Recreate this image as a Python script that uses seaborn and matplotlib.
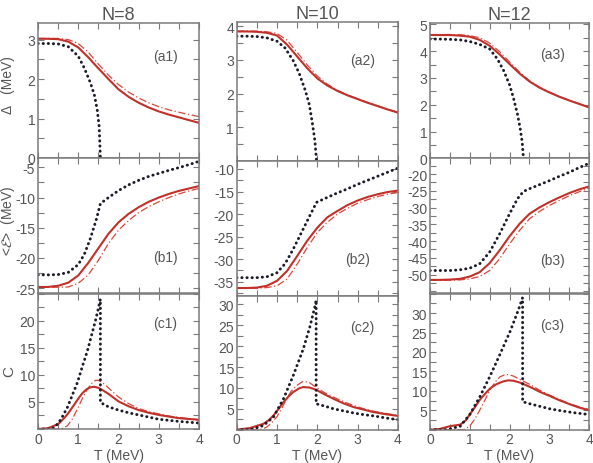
import numpy as np
import pandas as pd
import matplotlib
matplotlib.use("Agg")
import matplotlib.pyplot as plt
from matplotlib import font_manager
from matplotlib.ticker import MultipleLocator
import seaborn as sns

# ---------------- data ----------------
titles = ["N=8", "N=10", "N=12"]
panel_labels = [["(a1)", "(a2)", "(a3)"], ["(b1)", "(b2)", "(b3)"], ["(c1)", "(c2)", "(c3)"]]
T_grid = [0, 0.25, 0.5, 0.75, 1.0, 1.25, 1.5, 1.75, 2.0, 2.25, 2.5, 2.75, 3.0, 3.25, 3.5, 3.75, 4.0]

# Row a: pairing gap Delta (MeV)
a1_dot_T = [0, 0.25, 0.5, 0.75, 1.0, 1.15, 1.3, 1.4, 1.47, 1.52, 1.55]
a1_dot = [2.90, 2.90, 2.89, 2.82, 2.58, 2.28, 1.91, 1.60, 1.23, 0.80, 0.0]
a1_sol = [3.02, 3.02, 3.01, 2.95, 2.80, 2.55, 2.27, 2.00, 1.74, 1.55, 1.40, 1.28, 1.18, 1.10, 1.03, 0.96, 0.89]
a1_dd = [3.03, 3.03, 3.03, 3.00, 2.90, 2.68, 2.38, 2.10, 1.86, 1.67, 1.52, 1.40, 1.30, 1.22, 1.16, 1.10, 1.05]

a2_dot_T = [0, 0.25, 0.5, 0.75, 1.0, 1.2, 1.4, 1.55, 1.7, 1.8, 1.88, 1.94, 1.98]
a2_dot = [3.70, 3.70, 3.69, 3.65, 3.55, 3.35, 2.98, 2.60, 2.10, 1.68, 1.10, 0.60, 0.0]
a2_sol = [3.84, 3.84, 3.83, 3.80, 3.72, 3.45, 3.10, 2.75, 2.45, 2.24, 2.08, 1.95, 1.84, 1.73, 1.63, 1.53, 1.44]
a2_dd = [3.85, 3.85, 3.85, 3.83, 3.78, 3.58, 3.22, 2.85, 2.52, 2.28, 2.10, 1.96, 1.85, 1.74, 1.64, 1.54, 1.45]

a3_dot_T = [0, 0.25, 0.5, 0.75, 1.0, 1.25, 1.5, 1.7, 1.85, 2.0, 2.1, 2.2, 2.27, 2.32, 2.35]
a3_dot = [4.45, 4.45, 4.44, 4.42, 4.36, 4.25, 4.08, 3.70, 3.28, 2.75, 2.25, 1.65, 1.10, 0.60, 0.0]
a3_sol = [4.60, 4.60, 4.60, 4.58, 4.54, 4.42, 4.20, 3.88, 3.52, 3.17, 2.87, 2.64, 2.46, 2.30, 2.16, 2.03, 1.90]
a3_dd = [4.62, 4.62, 4.62, 4.61, 4.58, 4.50, 4.30, 3.98, 3.60, 3.22, 2.90, 2.66, 2.47, 2.31, 2.17, 2.04, 1.91]

# Row b: energy <E> (MeV)
b1_dot_T = [0, 0.25, 0.5, 0.75, 1.0, 1.15, 1.3, 1.45, 1.55, 1.75, 2.0, 2.25, 2.5, 2.75, 3.0, 3.25, 3.5, 3.75, 4.0]
b1_dot = [-22.8, -22.8, -22.75, -22.4, -21.1, -19.4, -16.8, -13.6, -11.0, -10.0, -8.85, -7.9, -7.15, -6.5, -6.0, -5.5, -5.05, -4.55, -4.0]
b1_sol = [-24.8, -24.8, -24.6, -24.1, -22.9, -20.8, -18.4, -16.0, -14.1, -12.7, -11.6, -10.7, -10.0, -9.4, -8.9, -8.5, -8.1]
b1_dd = [-24.85, -24.85, -24.85, -24.8, -24.2, -22.8, -20.4, -17.6, -15.4, -13.8, -12.5, -11.5, -10.7, -10.0, -9.4, -8.9, -8.5]

b2_dot_T = [0, 0.25, 0.5, 0.75, 1.0, 1.2, 1.4, 1.6, 1.8, 1.98, 2.25, 2.5, 2.75, 3.0, 3.25, 3.5, 3.75, 4.0]
b2_dot = [-34.1, -34.1, -34.1, -33.9, -33.0, -31.0, -27.8, -24.2, -20.6, -17.4, -16.3, -15.3, -14.4, -13.4, -12.5, -11.6, -10.7, -9.8]
b2_sol = [-36.4, -36.4, -36.3, -35.9, -34.8, -32.6, -29.3, -25.9, -23.0, -20.7, -19.3, -18.0, -17.0, -16.2, -15.6, -15.1, -14.8]
b2_dd = [-36.45, -36.45, -36.45, -36.3, -35.9, -34.4, -31.1, -27.4, -24.1, -21.8, -20.0, -18.7, -17.6, -16.8, -16.1, -15.6, -15.2]

b3_dot_T = [0, 0.25, 0.5, 0.75, 1.0, 1.25, 1.5, 1.75, 2.0, 2.2, 2.35, 2.5, 2.75, 3.0, 3.25, 3.5, 3.75, 4.0]
b3_dot = [-48.8, -48.8, -48.8, -48.6, -48.1, -46.8, -43.3, -37.9, -31.9, -27.4, -25.2, -24.4, -23.2, -22.0, -20.7, -19.5, -18.1, -16.8]
b3_sol = [-51.6, -51.6, -51.5, -51.3, -50.6, -49.3, -46.6, -42.8, -38.6, -34.9, -31.9, -30.0, -28.4, -27.0, -25.7, -24.6, -23.7]
b3_dd = [-51.7, -51.7, -51.7, -51.6, -51.3, -50.6, -48.8, -45.3, -40.9, -36.9, -33.4, -31.2, -29.4, -27.9, -26.5, -25.3, -24.2]

# Row c: heat capacity C
c1_dot_T = [0, 0.35, 0.5, 0.6, 0.73, 0.85, 0.98, 1.1, 1.23, 1.33, 1.43, 1.5, 1.55, 1.55, 1.75, 2.0, 2.25, 2.5, 2.75, 3.0, 3.25, 3.5, 3.75, 4.0]
c1_dot = [0, 0, 1.0, 2.2, 4.0, 6.2, 8.6, 11.5, 14.5, 17.3, 20.1, 22.3, 24.0, 4.9, 4.1, 3.5, 3.0, 2.6, 2.2, 1.8, 1.6, 1.4, 1.25, 1.1]
c1_sol_T = [0, 0.25, 0.5, 0.65, 0.75, 0.9, 1.0, 1.1, 1.2, 1.3, 1.4, 1.5, 1.6, 1.75, 2.0, 2.25, 2.5, 2.75, 3.0, 3.25, 3.5, 3.75, 4.0]
c1_sol = [0, 0.15, 0.9, 2.0, 2.9, 4.5, 5.6, 6.6, 7.3, 7.7, 7.8, 7.6, 7.2, 6.5, 5.1, 4.2, 3.5, 3.0, 2.6, 2.3, 2.0, 1.85, 1.7]
c1_dd_T = [0, 0.5, 0.6, 0.73, 0.85, 0.98, 1.1, 1.23, 1.33, 1.43, 1.5, 1.6, 1.75, 2.0, 2.25, 2.5, 2.75, 3.0, 3.25, 3.5, 3.75, 4.0]
c1_dd = [0, 0, 0.1, 0.6, 1.8, 3.7, 5.6, 7.4, 8.4, 9.0, 9.0, 8.6, 7.6, 5.9, 4.7, 3.8, 3.2, 2.8, 2.4, 2.15, 1.9, 1.7]

c2_dot_T = [0, 0.3, 0.41, 0.66, 0.91, 1.16, 1.4, 1.65, 1.82, 1.94, 1.97, 1.97, 2.2, 2.4, 2.65, 2.9, 3.15, 3.4, 3.7, 4.0]
c2_dot = [0, 0, 0.2, 1.0, 3.0, 7.4, 12.9, 19.3, 24.8, 29.5, 31.0, 6.2, 5.6, 5.0, 4.5, 4.0, 3.6, 3.3, 2.8, 2.4]
c2_sol_T = [0, 0.33, 0.5, 0.66, 0.8, 0.91, 1.05, 1.16, 1.3, 1.4, 1.55, 1.65, 1.8, 1.9, 2.0, 2.15, 2.4, 2.65, 2.9, 3.15, 3.4, 3.7, 4.0]
c2_sol = [0, 0.4, 0.9, 1.4, 2.3, 3.4, 5.1, 6.6, 8.1, 9.0, 9.9, 10.2, 10.1, 9.8, 9.4, 8.6, 7.4, 6.3, 5.4, 4.8, 4.2, 3.7, 3.3]
c2_dd_T = [0, 0.55, 0.65, 0.74, 0.85, 0.99, 1.1, 1.24, 1.35, 1.49, 1.65, 1.8, 1.9, 2.0, 2.15, 2.4, 2.65, 2.9, 3.15, 3.4, 3.7, 4.0]
c2_dd = [0, 0, 0.2, 0.6, 1.5, 3.0, 4.8, 7.4, 9.2, 10.6, 11.6, 11.3, 10.6, 10.0, 9.0, 7.8, 6.7, 5.8, 5.0, 4.4, 3.9, 3.4]

c3_dot_T = [0, 0.4, 0.5, 0.76, 1.0, 1.26, 1.51, 1.76, 2.02, 2.23, 2.33, 2.33, 2.5, 2.77, 3.0, 3.28, 3.6, 4.0]
c3_dot = [0, 0, 0.2, 0.9, 3.9, 8.6, 13.8, 19.4, 25.4, 31.0, 34.0, 7.2, 6.7, 6.0, 5.4, 4.9, 4.4, 3.9]
c3_sol_T = [0, 0.25, 0.5, 0.76, 0.9, 1.0, 1.13, 1.26, 1.4, 1.51, 1.65, 1.76, 1.87, 1.97, 2.1, 2.27, 2.52, 2.75, 3.03, 3.25, 3.53, 3.75, 4.0]
c3_sol = [0, 0.2, 0.9, 1.3, 2.4, 3.9, 5.8, 7.8, 9.4, 10.6, 11.6, 12.1, 12.5, 12.7, 12.6, 12.1, 11.0, 9.8, 8.6, 7.6, 6.5, 5.7, 5.0]
c3_dd_T = [0, 0.85, 1.0, 1.13, 1.26, 1.4, 1.51, 1.65, 1.76, 1.87, 1.97, 2.1, 2.27, 2.52, 2.75, 3.03, 3.25, 3.53, 3.75, 4.0]
c3_dd = [0, 0, 0.9, 2.8, 5.2, 8.0, 10.3, 12.4, 13.6, 14.1, 14.2, 13.8, 12.9, 11.6, 10.2, 8.8, 7.8, 6.6, 5.9, 5.2]

xticks = [0, 1, 2, 3, 4]
yticks = [[[0, 1, 2, 3], [1, 2, 3, 4], [0, 1, 2, 3, 4, 5]],
          [[-5, -10, -15, -20, -25], [-10, -15, -20, -25, -30, -35], [-20, -25, -30, -35, -40, -45, -50]],
          [[5, 10, 15, 20], [5, 10, 15, 20, 25, 30], [5, 10, 15, 20, 25, 30]]]

# ---------------- style ----------------
sns.set_theme(style="ticks")
avail = {f.name for f in font_manager.fontManager.ttflist}
fam = [f for f in ["Liberation Sans Narrow", "Liberation Sans", "DejaVu Sans"] if f in avail]
plt.rcParams["font.family"] = fam
TXT = "#555555"
SPINE = "#7a7a7a"
RED = "#c2302a"
RED2 = "#d44a3e"
DOT = "#1c1c28"

W, H = 593, 464
fig = plt.figure(figsize=(W / 100, H / 100), dpi=100)

cols_px = [(38, 199), (236.7, 398), (430, 589)]
rows_px = [[(24, 159), (159, 294), (294.7, 430)],
           [(23, 162.3), (162.3, 296.7), (297, 430.7)],
           [(24, 159.3), (159.3, 294.3), (294.7, 430.7)]]
ylims = [[(0, 3.42), (0, 4.12), (0, 5.05)],
         [(-25.8, -3.45), (-38.1, -8.3), (-55.6, -15.3)],
         [(0, 25.0), (0, 32.0), (0, 35.0)]]
yminor = [[0.5, 0.5, 0.5], [2.5, 2.5, 2.5], [2.5, 2.5, 2.5]]
label_pos = [[(0.79, 0.755), (0.78, 0.73), (0.77, 0.77)],
             [(0.79, 0.27), (0.75, 0.27), (0.77, 0.25)],
             [(0.79, 0.78), (0.78, 0.77), (0.77, 0.77)]]

data = {
    (0, 0): ((a1_dot_T, a1_dot), (T_grid, a1_sol), (T_grid, a1_dd)),
    (0, 1): ((a2_dot_T, a2_dot), (T_grid, a2_sol), (T_grid, a2_dd)),
    (0, 2): ((a3_dot_T, a3_dot), (T_grid, a3_sol), (T_grid, a3_dd)),
    (1, 0): ((b1_dot_T, b1_dot), (T_grid, b1_sol), (T_grid, b1_dd)),
    (1, 1): ((b2_dot_T, b2_dot), (T_grid, b2_sol), (T_grid, b2_dd)),
    (1, 2): ((b3_dot_T, b3_dot), (T_grid, b3_sol), (T_grid, b3_dd)),
    (2, 0): ((c1_dot_T, c1_dot), (c1_sol_T, c1_sol), (c1_dd_T, c1_dd)),
    (2, 1): ((c2_dot_T, c2_dot), (c2_sol_T, c2_sol), (c2_dd_T, c2_dd)),
    (2, 2): ((c3_dot_T, c3_dot), (c3_sol_T, c3_sol), (c3_dd_T, c3_dd)),
}

for c in range(3):
    x0, x1 = cols_px[c]
    for r in range(3):
        top, bot = rows_px[c][r]
        ax = fig.add_axes([x0 / W, 1 - bot / H, (x1 - x0) / W, (bot - top) / H])
        (dT, dV), (sT, sV), (eT, eV) = data[(r, c)]
        df_dot = pd.DataFrame({"T": dT, "v": dV})
        df_sol = pd.DataFrame({"T": sT, "v": sV})
        df_dd = pd.DataFrame({"T": eT, "v": eV})
        sns.lineplot(data=df_dd, x="T", y="v", ax=ax, color=RED2, lw=0.9,
                     linestyle=(0, (6, 2, 1, 2)), estimator=None, sort=False)
        sns.lineplot(data=df_sol, x="T", y="v", ax=ax, color=RED, lw=1.5,
                     estimator=None, sort=False)
        sns.lineplot(data=df_dot, x="T", y="v", ax=ax, color=DOT, lw=2.1,
                     linestyle=(0, (0.1, 1.65)), dash_capstyle="round",
                     estimator=None, sort=False)
        ax.set_xlim(0, 4)
        ax.set_ylim(*ylims[r][c])
        ax.set_xlabel("")
        ax.set_ylabel("")
        ax.xaxis.set_minor_locator(MultipleLocator(0.5))
        ax.yaxis.set_minor_locator(MultipleLocator(yminor[r][c]))
        ax.set_yticks(yticks[r][c])
        ax.set_yticklabels([str(v) for v in yticks[r][c]])
        ax.set_xticks(xticks)
        if r == 2:
            ax.set_xticklabels([str(v) for v in xticks])
        else:
            ax.set_xticklabels([])
        ax.tick_params(which="both", direction="in", top=True, right=True,
                       color=SPINE, width=0.8, labelcolor=TXT, labelsize=10, pad=2)
        ax.tick_params(which="major", length=4)
        ax.tick_params(which="minor", length=4)
        for s in ax.spines.values():
            s.set_color(SPINE)
            s.set_linewidth(1.1)
        ax.text(*label_pos[r][c], panel_labels[r][c], transform=ax.transAxes,
                ha="center", va="center", fontsize=10, color=TXT)
        if r == 0:
            ax.set_title(titles[c], fontsize=13, color=TXT, pad=2)
    fig.text(((x0 + x1) / 2) / W, 1 - 456 / H, "T (MeV)", ha="center", va="center",
             fontsize=10, color=TXT)

fig.text(8 / W, 1 - 85 / H, "Δ   (MeV)", rotation=90, ha="center", va="center",
         fontsize=10, color=TXT)
fig.text(8 / W, 1 - 221 / H, r"<$\mathcal{E}$>  (MeV)", rotation=90, ha="center",
         va="center", fontsize=10, color=TXT)
fig.text(9 / W, 1 - 372 / H, "C", rotation=90, ha="center", va="center",
         fontsize=11, color=TXT)

fig.savefig("out.png", dpi=100)
